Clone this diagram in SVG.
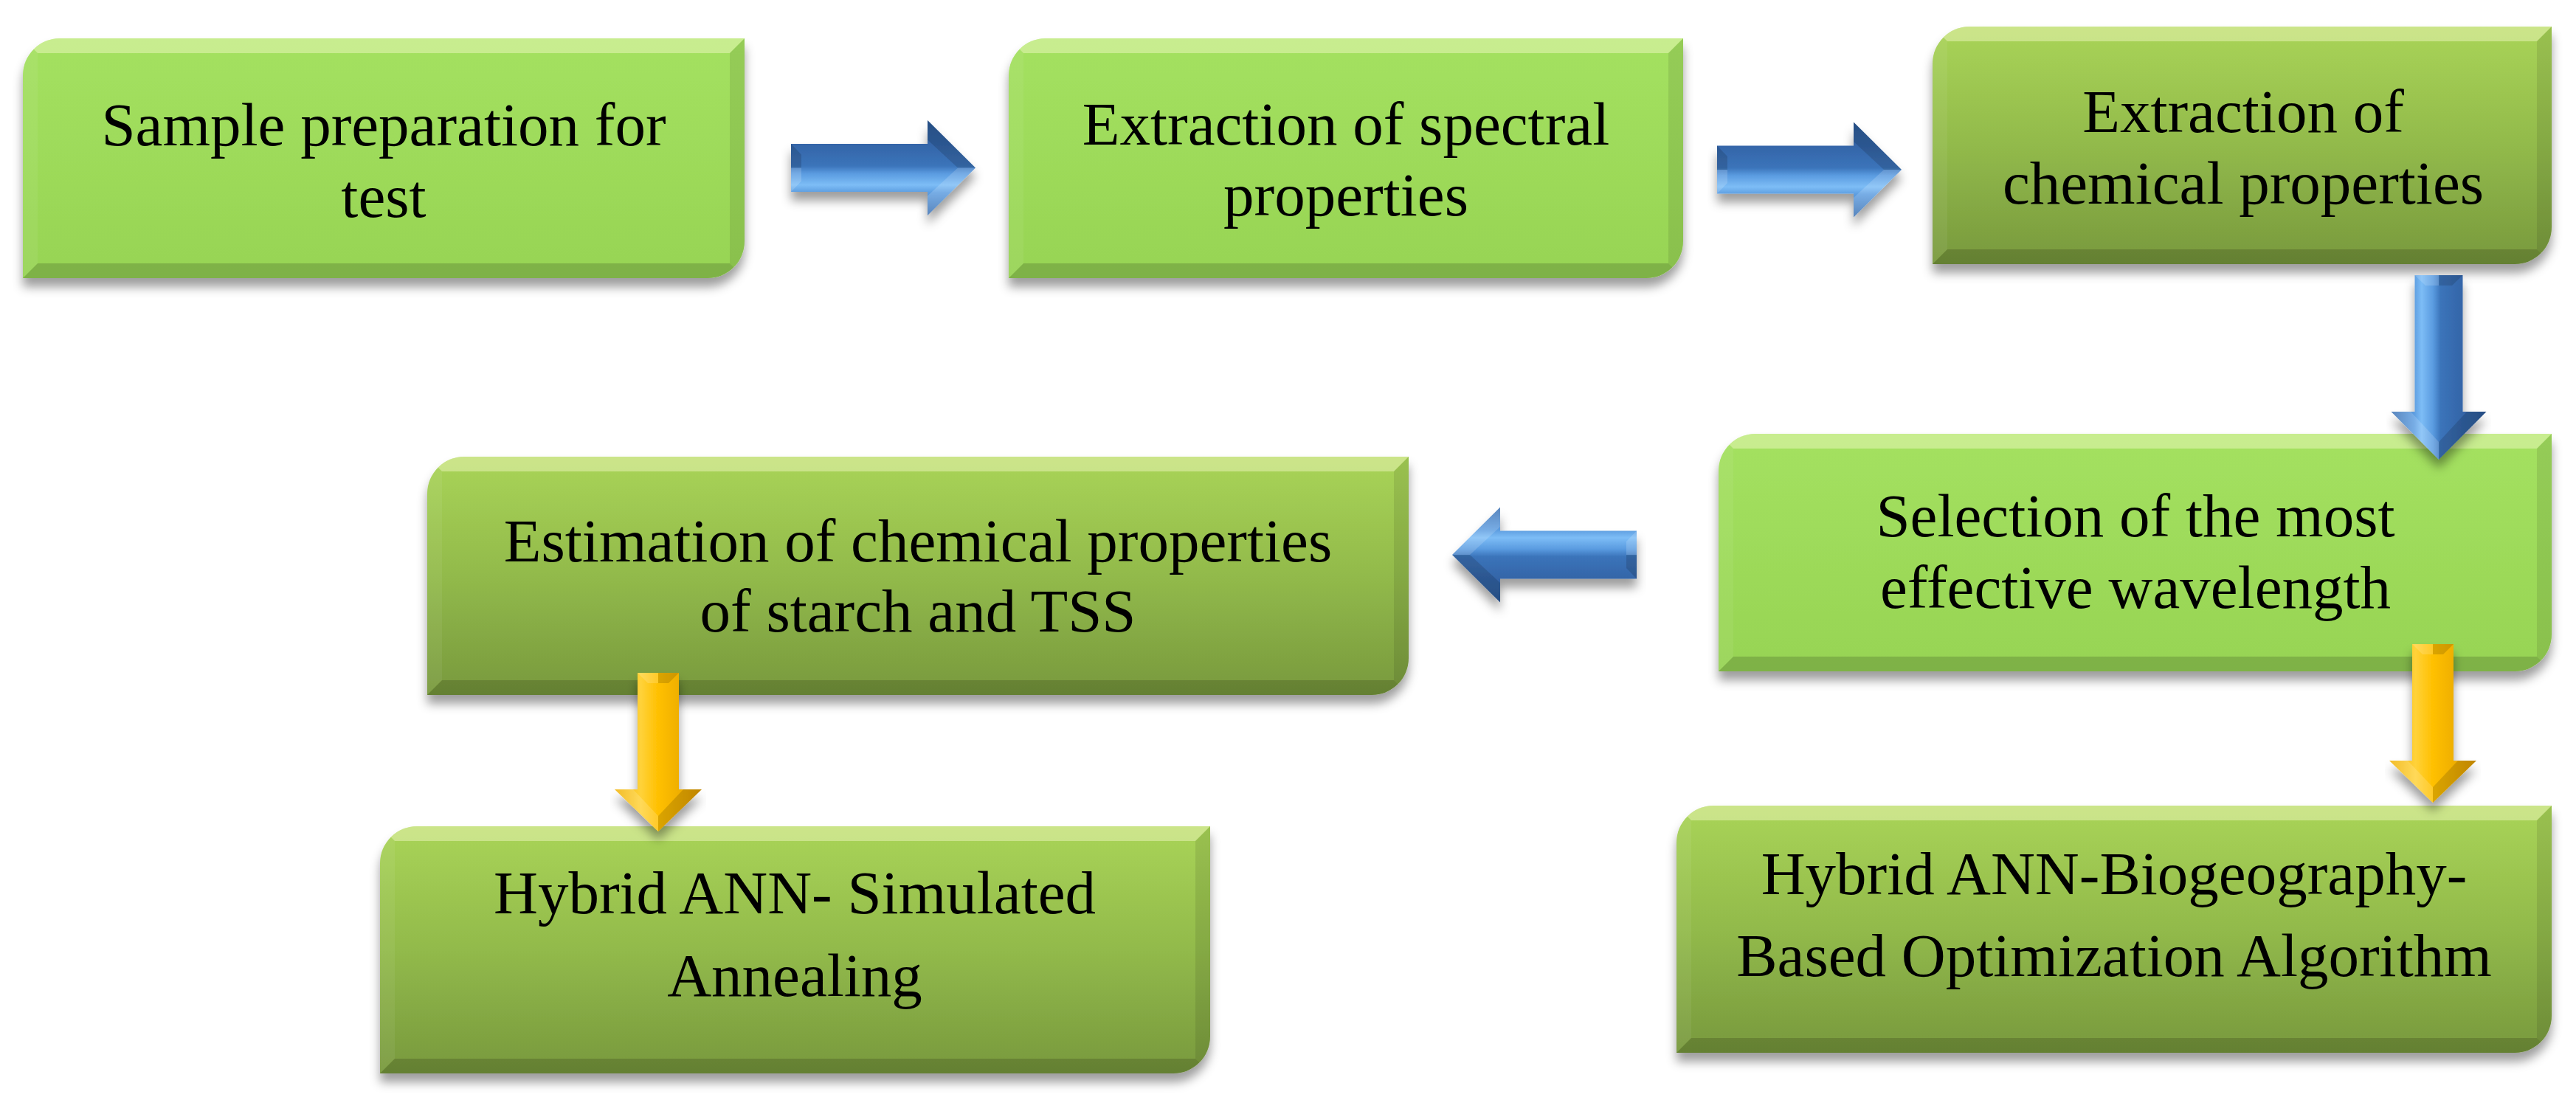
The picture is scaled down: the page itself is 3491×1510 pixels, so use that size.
<svg xmlns="http://www.w3.org/2000/svg" xmlns:xlink="http://www.w3.org/1999/xlink" width="3491" height="1510" viewBox="0 0 3491 1510">
<style>
.lbl{font-family:"Liberation Serif","Times New Roman",serif;font-size:83px;fill:#000;text-anchor:middle}
.bt{fill:#ffffd8;fill-opacity:.4}
.bl{fill:#fff;fill-opacity:.06}
.br{fill:#000;fill-opacity:.09}
.bb{fill:#000;fill-opacity:.16}
.fd{fill:#000;fill-opacity:.14}
.fl{fill:#fff;fill-opacity:.16}
</style>
<defs>
<filter id="sh" x="-5%" y="-10%" width="110%" height="130%">
<feDropShadow dx="0" dy="12" stdDeviation="7" flood-color="#000" flood-opacity="0.38"/>
</filter>
<linearGradient id="gBright" x1="0" y1="0" x2="0" y2="1">
<stop offset="0" stop-color="#a4e160"/><stop offset="1" stop-color="#97d454"/>
</linearGradient>
<linearGradient id="gDark" x1="0" y1="0" x2="0" y2="1">
<stop offset="0" stop-color="#a9d457"/><stop offset="0.5" stop-color="#92ba4b"/><stop offset="1" stop-color="#78993d"/>
</linearGradient>
<linearGradient id="gBlue" x1="0" y1="0" x2="0" y2="1">
<stop offset="0" stop-color="#2d5c9a"/><stop offset="0.25" stop-color="#3465a8"/><stop offset="0.48" stop-color="#3b74ba"/><stop offset="0.56" stop-color="#5a9be0"/><stop offset="0.68" stop-color="#7dbdf6"/><stop offset="0.76" stop-color="#5d9de0"/><stop offset="1" stop-color="#3a6fb1"/>
</linearGradient>
<linearGradient id="gYel" x1="0" y1="0" x2="0" y2="1">
<stop offset="0" stop-color="#e09c00"/><stop offset="0.3" stop-color="#f2b200"/><stop offset="0.5" stop-color="#ffc000"/><stop offset="0.7" stop-color="#ffd23a"/><stop offset="1" stop-color="#f0b000"/>
</linearGradient>
<g id="arB">
<path d="M0,-32.5 H185 V-64.5 L250,0 L185,64.5 V32.5 H0 Z" fill="url(#gBlue)"/>
<polygon class="fd" points="185,-64.5 250,0 226,0 185,-38"/>
<polygon class="fl" points="185,64.5 250,0 226,0 185,38"/>
<polygon class="fd" points="0,-32.5 14,-18 14,0 0,0"/>
<polygon class="fl" points="0,32.5 14,18 14,0 0,0"/>
</g>
<g id="arY">
<path d="M0,-28 H158 V-59 L215,0 L158,59 V28 H0 Z" fill="url(#gYel)"/>
<polygon class="fd" points="158,-59 215,0 194,0 158,-34"/>
<polygon class="fl" points="158,59 215,0 194,0 158,34"/>
<polygon class="fd" points="0,-28 14,-14 14,0 0,0"/>
<polygon class="fl" points="0,28 14,14 14,0 0,0"/>
</g>
<path id="p1" d="M81,52 H1009 V327 A50,50 0 0 1 959,377 H31 V102 A50,50 0 0 1 81,52 Z"/>
<path id="p2" d="M1417,52 H2281 V327 A50,50 0 0 1 2231,377 H1367 V102 A50,50 0 0 1 1417,52 Z"/>
<path id="p3" d="M2669,36 H3458 V308 A50,50 0 0 1 3408,358 H2619 V86 A50,50 0 0 1 2669,36 Z"/>
<path id="p4" d="M2379,588 H3458 V860 A50,50 0 0 1 3408,910 H2329 V638 A50,50 0 0 1 2379,588 Z"/>
<path id="p5" d="M629,619 H1909 V892 A50,50 0 0 1 1859,942 H579 V669 A50,50 0 0 1 629,619 Z"/>
<path id="p6" d="M2322,1092 H3458 V1377 A50,50 0 0 1 3408,1427 H2272 V1142 A50,50 0 0 1 2322,1092 Z"/>
<path id="p7" d="M565,1120 H1640 V1405 A50,50 0 0 1 1590,1455 H515 V1170 A50,50 0 0 1 565,1120 Z"/>
<clipPath id="c1"><use xlink:href="#p1"/></clipPath>
<clipPath id="c2"><use xlink:href="#p2"/></clipPath>
<clipPath id="c3"><use xlink:href="#p3"/></clipPath>
<clipPath id="c4"><use xlink:href="#p4"/></clipPath>
<clipPath id="c5"><use xlink:href="#p5"/></clipPath>
<clipPath id="c6"><use xlink:href="#p6"/></clipPath>
<clipPath id="c7"><use xlink:href="#p7"/></clipPath>
</defs>
<rect width="3491" height="1510" fill="#ffffff"/>

<g id="n1">
<use xlink:href="#p1" fill="url(#gBright)" filter="url(#sh)"/>
<g clip-path="url(#c1)">
<polygon class="bt" points="31,52 1009,52 989,72 51,72"/>
<polygon class="bl" points="31,52 51,72 51,357 31,377"/>
<polygon class="br" points="1009,52 1009,377 989,357 989,72"/>
<polygon class="bb" points="31,377 1009,377 989,357 51,357"/>
</g>
<text class="lbl" x="520" y="197">Sample preparation for</text>
<text class="lbl" x="520" y="294">test</text>
</g>

<g id="n2">
<use xlink:href="#p2" fill="url(#gBright)" filter="url(#sh)"/>
<g clip-path="url(#c2)">
<polygon class="bt" points="1367,52 2281,52 2261,72 1387,72"/>
<polygon class="bl" points="1367,52 1387,72 1387,357 1367,377"/>
<polygon class="br" points="2281,52 2281,377 2261,357 2261,72"/>
<polygon class="bb" points="1367,377 2281,377 2261,357 1387,357"/>
</g>
<text class="lbl" x="1824" y="196">Extraction of spectral</text>
<text class="lbl" x="1824" y="292">properties</text>
</g>

<g id="n3">
<use xlink:href="#p3" fill="url(#gDark)" filter="url(#sh)"/>
<g clip-path="url(#c3)">
<polygon class="bt" points="2619,36 3458,36 3438,56 2639,56"/>
<polygon class="bl" points="2619,36 2639,56 2639,338 2619,358"/>
<polygon class="br" points="3458,36 3458,358 3438,338 3438,56"/>
<polygon class="bb" points="2619,358 3458,358 3438,338 2639,338"/>
</g>
<text class="lbl" x="3040" y="179">Extraction of</text>
<text class="lbl" x="3040" y="276">chemical properties</text>
</g>

<g id="n4">
<use xlink:href="#p4" fill="url(#gBright)" filter="url(#sh)"/>
<g clip-path="url(#c4)">
<polygon class="bt" points="2329,588 3458,588 3438,608 2349,608"/>
<polygon class="bl" points="2329,588 2349,608 2349,890 2329,910"/>
<polygon class="br" points="3458,588 3458,910 3438,890 3438,608"/>
<polygon class="bb" points="2329,910 3458,910 3438,890 2349,890"/>
</g>
<text class="lbl" x="2894" y="727">Selection of the most</text>
<text class="lbl" x="2894" y="824">effective wavelength</text>
</g>

<g id="n5">
<use xlink:href="#p5" fill="url(#gDark)" filter="url(#sh)"/>
<g clip-path="url(#c5)">
<polygon class="bt" points="579,619 1909,619 1889,639 599,639"/>
<polygon class="bl" points="579,619 599,639 599,922 579,942"/>
<polygon class="br" points="1909,619 1909,942 1889,922 1889,639"/>
<polygon class="bb" points="579,942 1909,942 1889,922 599,922"/>
</g>
<text class="lbl" x="1244" y="761">Estimation of chemical properties</text>
<text class="lbl" x="1244" y="856">of starch and TSS</text>
</g>

<g id="n6">
<use xlink:href="#p6" fill="url(#gDark)" filter="url(#sh)"/>
<g clip-path="url(#c6)">
<polygon class="bt" points="2272,1092 3458,1092 3438,1112 2292,1112"/>
<polygon class="bl" points="2272,1092 2292,1112 2292,1407 2272,1427"/>
<polygon class="br" points="3458,1092 3458,1427 3438,1407 3438,1112"/>
<polygon class="bb" points="2272,1427 3458,1427 3438,1407 2292,1407"/>
</g>
<text class="lbl" x="2865" y="1212">Hybrid ANN-Biogeography-</text>
<text class="lbl" x="2865" y="1323">Based Optimization Algorithm</text>
</g>

<g id="n7">
<use xlink:href="#p7" fill="url(#gDark)" filter="url(#sh)"/>
<g clip-path="url(#c7)">
<polygon class="bt" points="515,1120 1640,1120 1620,1140 535,1140"/>
<polygon class="bl" points="515,1120 535,1140 535,1435 515,1455"/>
<polygon class="br" points="1640,1120 1640,1455 1620,1435 1620,1140"/>
<polygon class="bb" points="515,1455 1640,1455 1620,1435 535,1435"/>
</g>
<text class="lbl" x="1077" y="1238">Hybrid ANN- Simulated</text>
<text class="lbl" x="1077" y="1350">Annealing</text>
</g>

<g id="connectors">
<g filter="url(#sh)"><use xlink:href="#arB" transform="translate(1072,227.5)"/></g>
<g filter="url(#sh)"><use xlink:href="#arB" transform="translate(2327,230)"/></g>
<g filter="url(#sh)"><use xlink:href="#arB" transform="translate(3305,373) rotate(90)"/></g>
<g filter="url(#sh)"><use xlink:href="#arB" transform="translate(2218,752) rotate(180)"/></g>
<g filter="url(#sh)"><use xlink:href="#arY" transform="translate(3297,873) rotate(90)"/></g>
<g filter="url(#sh)"><use xlink:href="#arY" transform="translate(892,912) rotate(90)"/></g>
</g>
</svg>
